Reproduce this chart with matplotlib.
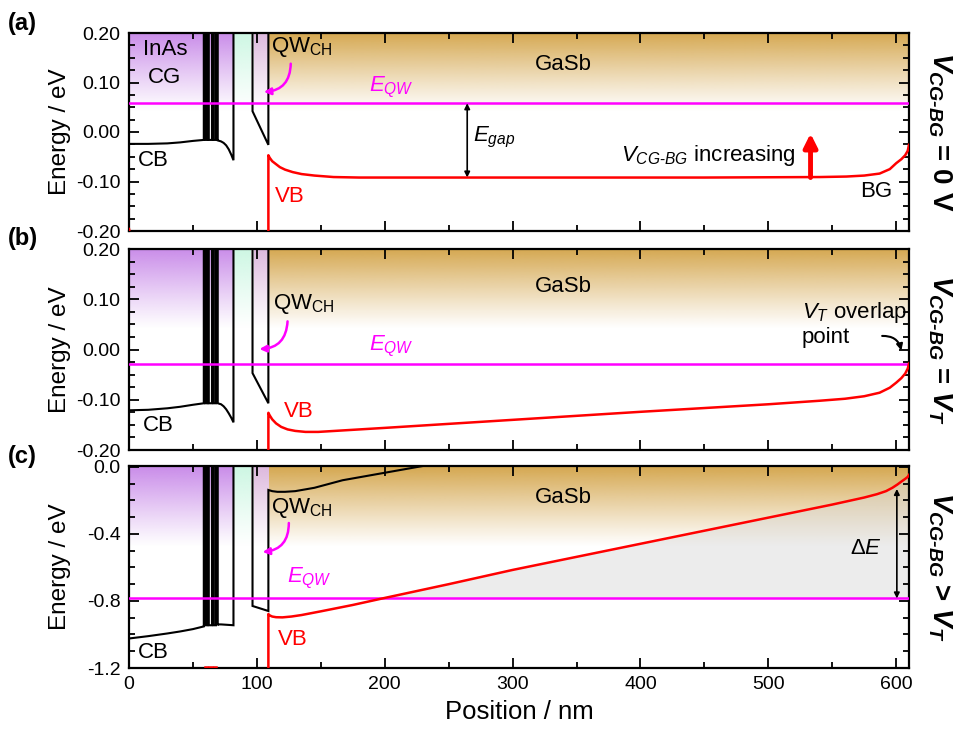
import numpy as np
import matplotlib
matplotlib.use("Agg")
import matplotlib.pyplot as plt
from matplotlib.ticker import MultipleLocator, FormatStrFormatter
from matplotlib.colors import to_rgb

plt.rcParams.update({
    "font.family": ["Liberation Sans", "DejaVu Sans"],
    "mathtext.fontset": "custom",
    "mathtext.rm": "Liberation Sans",
    "mathtext.it": "Liberation Sans:italic",
    "mathtext.bf": "Liberation Sans:bold",
    "mathtext.bfit": "Liberation Sans:italic:bold",
    "font.size": 16,
    "axes.unicode_minus": False,
})

# ---------------- layer structure (nm) ----------------
cg_x = [0, 15, 30, 40, 50, 58.5]                        # InAs contact gate
sl_barriers = [(58.5, 59.7), (61.2, 62.4), (64.9, 66.3), (68.0, 69.4)]
inas_x = [69.4, 72, 74, 76, 78, 80, 81.7]
barrier_left = 81.7
qw_left, qw_right = 96.6, 109.0

# ---------------- conduction band (eV) ----------------
cg_cb_a = [-0.024, -0.024, -0.023, -0.021, -0.018, -0.016]
cg_cb_b = [-0.121, -0.120, -0.117, -0.114, -0.110, -0.107]
cg_cb_c = [-1.024, -1.010, -0.994, -0.982, -0.968, -0.952]
sl_cb_a, sl_cb_b, sl_cb_c = -0.016, -0.107, -0.945
inas_cb_a = [-0.017, -0.019, -0.022, -0.027, -0.035, -0.046, -0.057]
inas_cb_b = [-0.107, -0.109, -0.113, -0.119, -0.127, -0.136, -0.145]
inas_cb_c = [-0.940, -0.940, -0.941, -0.942, -0.943, -0.944, -0.945]
qw_cb_a = [0.042, -0.026]
qw_cb_b = [-0.047, -0.107]
qw_cb_c = [-0.830, -0.860]
gasb_cb_x_c = [109.0, 112, 116, 122, 130, 145, 167, 198, 232]
gasb_cb_c = [-0.138, -0.145, -0.149, -0.149, -0.145, -0.125, -0.080, -0.038, 0.008]

# ---------------- GaSb valence band (eV) ----------------
vb_x_a = [109, 109, 110, 112, 115, 118, 122, 128, 135, 145, 160, 180, 300, 450,
          540, 561, 575, 587, 595, 600, 604, 607, 609, 610]
vb_a = [-0.21, -0.047, -0.052, -0.059, -0.065, -0.071, -0.076, -0.081, -0.085,
        -0.088, -0.091, -0.092, -0.092, -0.092, -0.091, -0.090, -0.088, -0.084,
        -0.075, -0.063, -0.055, -0.047, -0.038, -0.026]
vb_x_b = [109, 109, 110, 112, 115, 119, 124, 130, 138, 148, 200, 300, 400, 500,
          540, 560, 575, 587, 595, 600, 604, 607, 609, 610]
vb_b = [-0.21, -0.126, -0.131, -0.139, -0.147, -0.154, -0.159, -0.162, -0.164,
        -0.164, -0.156, -0.140, -0.124, -0.109, -0.102, -0.098, -0.093, -0.086,
        -0.076, -0.066, -0.057, -0.048, -0.038, -0.028]
vb_x_c = [109, 109, 110, 112, 115, 120, 127, 135, 150, 175, 200, 250, 300, 400,
          450, 500, 550, 575, 585, 592, 597, 601, 604, 607, 609, 610]
vb_c = [-1.21, -0.878, -0.886, -0.893, -0.897, -0.898, -0.893, -0.884, -0.862,
        -0.824, -0.782, -0.700, -0.615, -0.459, -0.381, -0.303, -0.225, -0.183,
        -0.163, -0.145, -0.125, -0.105, -0.088, -0.072, -0.060, -0.048]
# valence band edges just touching the lower axis limit
vb_cg_x_a = [0, 1.0]
vb_cg_a = [-0.196, -0.21]
vb_sl_x_c = [59.7, 61.2, 62.4, 64.9, 66.3, 68.0]
vb_sl_c = -1.196

# ---------------- quantum-well level (eV) ----------------
e_qw_a, e_qw_b, e_qw_c = 0.058, -0.028, -0.785

# ---------------- background regions ----------------
region_x = [(0, 81.5), (82.3, 95.5), (97.4, 108.4), (109.6, 610)]
region_colors = ['#c98be9', '#cdf7e3', '#ddb8dd', '#d5a74f']

TOP = 2.0
X_MAX = 610
TXT = 16


def cb_path(cg_e, sl_e, inas_e, qw_e, gasb_x=None, gasb_e=None):
    xs, ys = list(cg_x), list(cg_e)
    for b0, b1 in sl_barriers:
        xs += [b0, b0, b1, b1]
        ys += [sl_e, TOP, TOP, sl_e]
    xs += inas_x
    ys += inas_e
    xs += [barrier_left, qw_left, qw_left, qw_right]
    ys += [TOP, TOP, qw_e[0], qw_e[1]]
    if gasb_x is None:
        xs += [qw_right]
        ys += [TOP]
    else:
        xs += gasb_x
        ys += gasb_e
    return xs, ys


def shade(ax, depth=0.40):
    n = 256
    for (x0, x1), col in zip(region_x, region_colors):
        rgba = np.zeros((n, 1, 4))
        rgba[..., :3] = to_rgb(col)
        rgba[:, 0, 3] = np.linspace(1.0, 0.0, n) ** 1.1
        ax.imshow(rgba, extent=(x0, x1, 1 - depth, 1), origin='upper',
                  transform=ax.get_xaxis_transform(), aspect='auto',
                  interpolation='bilinear', zorder=0)


def style(ax, ylim, major, minor, fmt):
    ax.set_xlim(0, X_MAX)
    ax.set_ylim(*ylim)
    ax.xaxis.set_major_locator(MultipleLocator(100))
    ax.xaxis.set_minor_locator(MultipleLocator(50))
    ax.yaxis.set_major_locator(MultipleLocator(major))
    ax.yaxis.set_minor_locator(MultipleLocator(minor))
    ax.yaxis.set_major_formatter(FormatStrFormatter(fmt))
    ax.tick_params(which='both', direction='in', top=True, right=True,
                   width=1.3, labelsize=14, pad=6)
    ax.tick_params(which='major', length=7)
    ax.tick_params(which='minor', length=4)
    for s in ax.spines.values():
        s.set_linewidth(1.6)
    ax.set_ylabel("Energy / eV", fontsize=17.5)
    ax.yaxis.set_label_coords(-0.074, 0.5)


fig = plt.figure(figsize=(9.55, 7.47), dpi=100)
L, W = 129 / 955, 780 / 955
ax_a = fig.add_axes([L, 1 - 231 / 747, W, 198 / 747])
ax_b = fig.add_axes([L, 1 - 450 / 747, W, 201 / 747])
ax_c = fig.add_axes([L, 1 - 668 / 747, W, 202 / 747])

CB_KW = dict(color='black', lw=1.5, zorder=3, solid_joinstyle='miter')
VB_KW = dict(color='red', lw=1.8, zorder=4)
QW_KW = dict(color='#ff00ff', lw=1.8, zorder=3)
MAG = '#ff00ff'

# ---------------- (a) ----------------
ax = ax_a
shade(ax)
ax.plot(*cb_path(cg_cb_a, sl_cb_a, inas_cb_a, qw_cb_a), **CB_KW)
ax.axhline(e_qw_a, **QW_KW)
ax.plot(vb_x_a, vb_a, **VB_KW)
ax.plot(vb_cg_x_a, vb_cg_a, **VB_KW)
style(ax, (-0.2, 0.2), 0.1, 0.025, '%.2f')
ax.tick_params(labelbottom=False)
ax.text(28, 0.167, "InAs", ha='center', va='center', fontsize=TXT)
ax.text(28, 0.110, "CG", ha='center', va='center', fontsize=TXT)
ax.text(111, 0.172, r"QW$_{\mathrm{CH}}$", ha='left', va='center', fontsize=TXT)
ax.annotate("", xy=(105.5, 0.081), xytext=(126.5, 0.138),
            arrowprops=dict(arrowstyle='-|>', color=MAG, lw=1.8,
                            mutation_scale=10, shrinkA=0, shrinkB=0,
                            connectionstyle='arc3,rad=-0.45'))
ax.text(340, 0.137, "GaSb", ha='center', va='center', fontsize=TXT)
ax.text(205, 0.091, r"$E_{QW}$", color=MAG, ha='center', va='center', fontsize=TXT)
ax.annotate("", xy=(264.5, -0.092), xytext=(264.5, e_qw_a),
            arrowprops=dict(arrowstyle='<|-|>', color='black', lw=1.2,
                            mutation_scale=8, shrinkA=0, shrinkB=0))
ax.text(269, -0.012, r"$E_{gap}$", ha='left', va='center', fontsize=TXT)
ax.text(521, -0.047, "$V_{CG\u2010BG}$ increasing", ha='right', va='center', fontsize=TXT)
ax.annotate("", xy=(533, -0.003), xytext=(533, -0.092),
            arrowprops=dict(arrowstyle='-|>', color='red', lw=3.5,
                            mutation_scale=20, shrinkA=0, shrinkB=0))
ax.text(597, -0.121, "BG", ha='right', va='center', fontsize=TXT)
ax.text(126, -0.131, "VB", color='red', ha='center', va='center', fontsize=TXT)
ax.text(19, -0.058, "CB", ha='center', va='center', fontsize=TXT)

# ---------------- (b) ----------------
ax = ax_b
shade(ax)
ax.plot(*cb_path(cg_cb_b, sl_cb_b, inas_cb_b, qw_cb_b), **CB_KW)
ax.axhline(e_qw_b, **QW_KW)
ax.plot(vb_x_b, vb_b, **VB_KW)
style(ax, (-0.2, 0.2), 0.1, 0.025, '%.2f')
ax.tick_params(labelbottom=False)
ax.text(113, 0.090, r"QW$_{\mathrm{CH}}$", ha='left', va='center', fontsize=TXT)
ax.annotate("", xy=(102, 0.001), xytext=(124, 0.056),
            arrowprops=dict(arrowstyle='-|>', color=MAG, lw=1.8,
                            mutation_scale=10, shrinkA=0, shrinkB=0,
                            connectionstyle='arc3,rad=-0.45'))
ax.text(340, 0.125, "GaSb", ha='center', va='center', fontsize=TXT)
ax.text(205, 0.006, r"$E_{QW}$", color=MAG, ha='center', va='center', fontsize=TXT)
ax.text(133, -0.124, "VB", color='red', ha='center', va='center', fontsize=TXT)
ax.text(23, -0.151, "CB", ha='center', va='center', fontsize=TXT)
ax.text(526, 0.074, r"$V_T$ overlap", ha='left', va='center', fontsize=TXT)
ax.text(526, 0.024, "point", ha='left', va='center', fontsize=TXT)
ax.annotate("", xy=(604, -0.002), xytext=(589, 0.027),
            arrowprops=dict(arrowstyle='-|>', color='black', lw=1.5,
                            mutation_scale=9, shrinkA=0, shrinkB=0,
                            connectionstyle='arc3,rad=-0.4'))

# ---------------- (c) ----------------
ax = ax_c
shade(ax)
vbc = np.array(vb_c)
vbx = np.array(vb_x_c)
ax.fill_between(vbx, e_qw_c, vbc, where=vbc >= e_qw_c, interpolate=True,
                color='#d6d6d6', alpha=0.45, lw=0, zorder=1)
ax.plot(*cb_path(cg_cb_c, sl_cb_c, inas_cb_c, qw_cb_c, gasb_cb_x_c, gasb_cb_c), **CB_KW)
ax.axhline(e_qw_c, **QW_KW)
ax.plot(vb_x_c, vb_c, **VB_KW)
for i in range(0, len(vb_sl_x_c), 2):
    ax.plot(vb_sl_x_c[i:i + 2], [vb_sl_c, vb_sl_c], **VB_KW)
style(ax, (-1.2, 0.005), 0.4, 0.1, '%.1f')
ax.set_xlabel("Position / nm", fontsize=18.5, labelpad=5)
ax.text(111, -0.248, r"QW$_{\mathrm{CH}}$", ha='left', va='center', fontsize=TXT)
ax.annotate("", xy=(104.5, -0.508), xytext=(125, -0.335),
            arrowprops=dict(arrowstyle='-|>', color=MAG, lw=1.8,
                            mutation_scale=10, shrinkA=0, shrinkB=0,
                            connectionstyle='arc3,rad=-0.45'))
ax.text(340, -0.180, "GaSb", ha='center', va='center', fontsize=TXT)
ax.text(141, -0.668, r"$E_{QW}$", color=MAG, ha='center', va='center', fontsize=TXT)
ax.text(128, -1.028, "VB", color='red', ha='center', va='center', fontsize=TXT)
ax.text(19, -1.108, "CB", ha='center', va='center', fontsize=TXT)
ax.annotate("", xy=(600.5, e_qw_c), xytext=(600.5, -0.132),
            arrowprops=dict(arrowstyle='<|-|>', color='black', lw=1.2,
                            mutation_scale=8, shrinkA=0, shrinkB=0))
ax.text(576, -0.488, "$\\mathit{\u0394E}$", ha='center', va='center', fontsize=TXT)

# ---------------- gate-bias labels ----------------
for axx, lab in [(ax_a, "$\\mathbfit{V}_{\\mathbfit{CG\u2010BG}}$ = 0 V"),
                 (ax_b, "$\\mathbfit{V}_{\\mathbfit{CG\u2010BG}}$ = $\\mathbfit{V}_{\\mathbfit{T}}$"),
                 (ax_c, "$\\mathbfit{V}_{\\mathbfit{CG\u2010BG}}$ > $\\mathbfit{V}_{\\mathbfit{T}}$")]:
    pos = axx.get_position()
    fig.text(0.984, pos.y0 + pos.height / 2, lab, rotation=-90, ha='center',
             va='center', fontsize=20, fontweight='bold')

for axx, lab in [(ax_a, "(a)"), (ax_b, "(b)"), (ax_c, "(c)")]:
    pos = axx.get_position()
    fig.text(8 / 955, pos.y1 + 10 / 747, lab, fontsize=17, fontweight='bold',
             ha='left', va='center')

fig.savefig("out.png", dpi=100)
